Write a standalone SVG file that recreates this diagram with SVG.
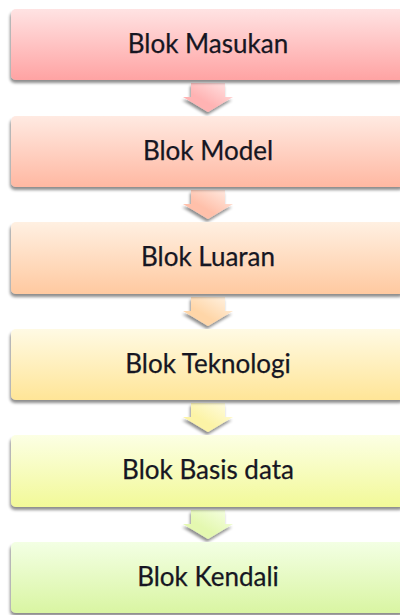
<svg xmlns="http://www.w3.org/2000/svg" width="400" height="615" viewBox="0 0 400 615">
  <defs>
    <filter id="shadow" x="-10%" y="-20%" width="120%" height="150%">
      <feGaussianBlur in="SourceAlpha" stdDeviation="1.6"/>
      <feOffset dx="-1" dy="3" result="b"/>
      <feComponentTransfer><feFuncA type="linear" slope="0.45"/></feComponentTransfer>
      <feMerge><feMergeNode/><feMergeNode in="SourceGraphic"/></feMerge>
    </filter>
    <linearGradient id="g1" x1="0" y1="0" x2="0" y2="1"><stop offset="0" stop-color="#ffe3e3"/><stop offset="1" stop-color="#ffa3a3"/></linearGradient>
    <linearGradient id="g2" x1="0" y1="0" x2="0" y2="1"><stop offset="0" stop-color="#ffeae2"/><stop offset="1" stop-color="#ffb8a2"/></linearGradient>
    <linearGradient id="g3" x1="0" y1="0" x2="0" y2="1"><stop offset="0" stop-color="#fff0e2"/><stop offset="1" stop-color="#ffc9a0"/></linearGradient>
    <linearGradient id="g4" x1="0" y1="0" x2="0" y2="1"><stop offset="0" stop-color="#fffae4"/><stop offset="1" stop-color="#ffe597"/></linearGradient>
    <linearGradient id="g5" x1="0" y1="0" x2="0" y2="1"><stop offset="0" stop-color="#fcffe4"/><stop offset="1" stop-color="#f2f998"/></linearGradient>
    <linearGradient id="g6" x1="0" y1="0" x2="0" y2="1"><stop offset="0" stop-color="#f3ffe4"/><stop offset="1" stop-color="#d9f5a2"/></linearGradient>
    <linearGradient id="a1" x1="1" y1="0" x2="0" y2="1"><stop offset="0" stop-color="#ffe6e6"/><stop offset="0.6" stop-color="#ffb3b3"/></linearGradient>
    <linearGradient id="a2" x1="1" y1="0" x2="0" y2="1"><stop offset="0" stop-color="#ffeee6"/><stop offset="0.6" stop-color="#ffc0aa"/></linearGradient>
    <linearGradient id="a3" x1="1" y1="0" x2="0" y2="1"><stop offset="0" stop-color="#fff4e6"/><stop offset="0.6" stop-color="#ffd6a8"/></linearGradient>
    <linearGradient id="a4" x1="1" y1="0" x2="0" y2="1"><stop offset="0" stop-color="#fffde6"/><stop offset="0.6" stop-color="#fcf3a6"/></linearGradient>
    <linearGradient id="a5" x1="1" y1="0" x2="0" y2="1"><stop offset="0" stop-color="#f6ffe6"/><stop offset="0.6" stop-color="#e4f8b0"/></linearGradient>
  </defs>
  <style>
    .box { filter: url(#shadow); }
    .arrow { filter: url(#shadow); }
    .label { font-family: "Lato", "Open Sans", sans-serif; font-size: 26px; fill: #161622; text-anchor: middle; stroke: #161622; stroke-width: 0.25; }
  </style>

  <!-- connectors: block arrows between consecutive blocks -->
  <g id="connectors">
    <path class="arrow" fill="url(#a1)" d="M191,83 H225 V97 H233 L208,112 L183,97 H191 Z"/>
    <path class="arrow" fill="url(#a2)" d="M191,190 H225 V204 H233 L208,219 L183,204 H191 Z"/>
    <path class="arrow" fill="url(#a3)" d="M191,297 H225 V311 H233 L208,326 L183,311 H191 Z"/>
    <path class="arrow" fill="url(#a4)" d="M191,403 H225 V417 H233 L208,432 L183,417 H191 Z"/>
    <path class="arrow" fill="url(#a5)" d="M191,510 H225 V524 H233 L208,539 L183,524 H191 Z"/>
  </g>

  <g id="blok-masukan">
    <rect class="box" x="11" y="9" width="394" height="71" rx="5" fill="url(#g1)"/>
    <text class="label" x="208" y="53">Blok Masukan</text>
  </g>
  <g id="blok-model">
    <rect class="box" x="11" y="116" width="394" height="71" rx="5" fill="url(#g2)"/>
    <text class="label" x="208" y="160">Blok Model</text>
  </g>
  <g id="blok-luaran">
    <rect class="box" x="11" y="222" width="394" height="72" rx="5" fill="url(#g3)"/>
    <text class="label" x="208" y="266">Blok Luaran</text>
  </g>
  <g id="blok-teknologi">
    <rect class="box" x="11" y="329" width="394" height="71" rx="5" fill="url(#g4)"/>
    <text class="label" x="208" y="373">Blok Teknologi</text>
  </g>
  <g id="blok-basis-data">
    <rect class="box" x="11" y="435" width="394" height="72" rx="5" fill="url(#g5)"/>
    <text class="label" x="208" y="479">Blok Basis data</text>
  </g>
  <g id="blok-kendali">
    <rect class="box" x="11" y="542" width="394" height="71" rx="5" fill="url(#g6)"/>
    <text class="label" x="208" y="586">Blok Kendali</text>
  </g>
</svg>
